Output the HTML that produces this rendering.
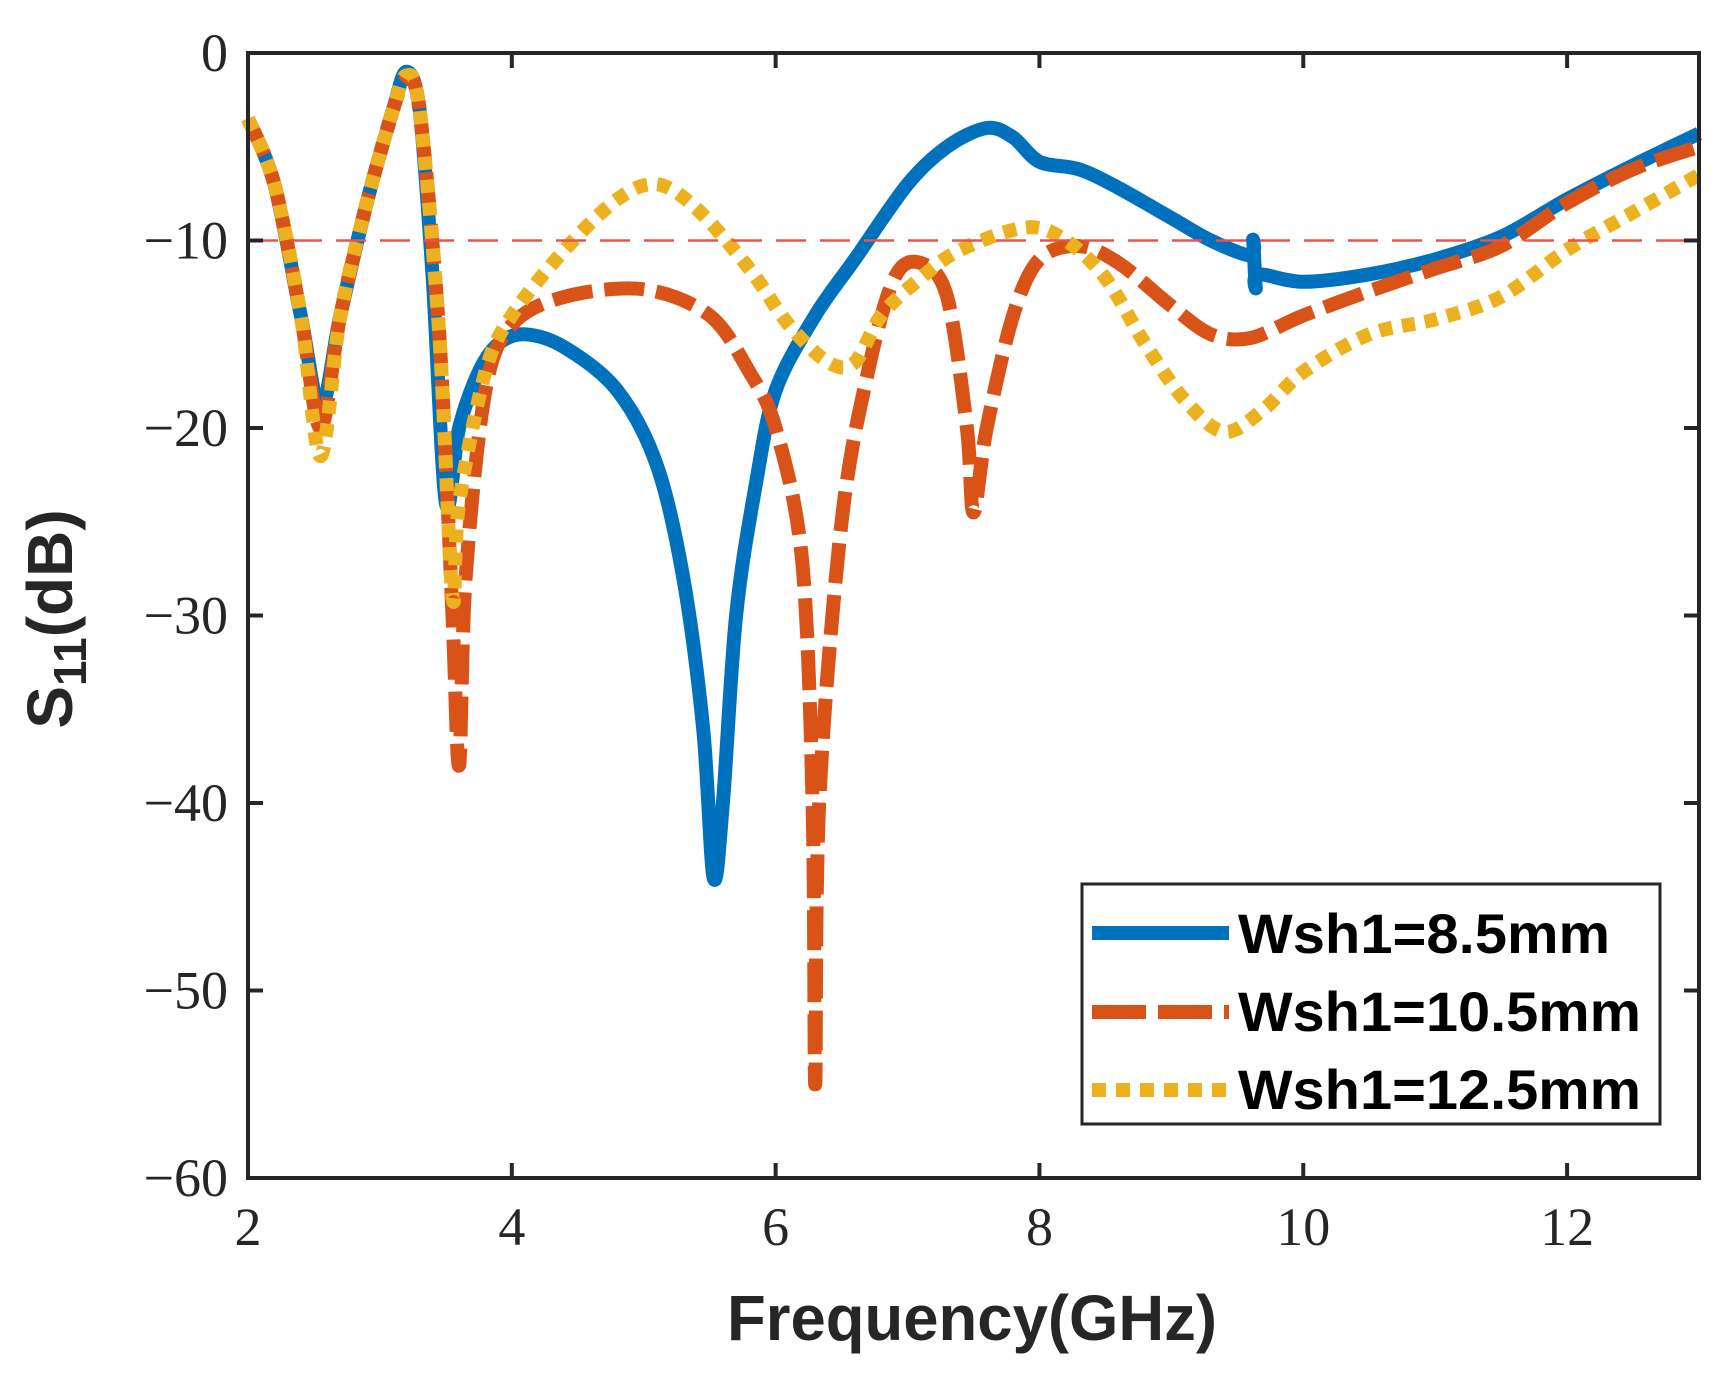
<!DOCTYPE html>
<html><head><meta charset="utf-8"><style>html,body{margin:0;padding:0;background:#fff}svg{display:block}</style></head>
<body>
<svg id="s" width="1731" height="1374" viewBox="0 0 1731 1374" xmlns="http://www.w3.org/2000/svg">
<rect width="1731" height="1374" fill="#fff"/>
<g id="plot"></g>
<g id="axes" stroke="#262626" stroke-width="4" fill="none"></g>
<g font-family="'Liberation Serif', serif" font-size="54" fill="#262626" id="ticks"></g>
<text x="972" y="1340" font-family="'Liberation Sans', sans-serif" font-weight="bold" font-size="64" fill="#262626" text-anchor="middle" textLength="490" lengthAdjust="spacingAndGlyphs">Frequency(GHz)</text>
<text transform="translate(72,619) rotate(-90)" font-family="'Liberation Sans', sans-serif" font-weight="bold" font-size="64" fill="#262626" text-anchor="middle">S<tspan font-size="46" dy="14">11</tspan><tspan dy="-14">(dB)</tspan></text>
<g id="legend">
<rect x="1082" y="884" width="578" height="240" fill="#fff" stroke="#262626" stroke-width="3"/>
<line x1="1092" y1="933" x2="1229" y2="933" stroke="#0072BD" stroke-width="14"/>
<line x1="1092" y1="1012" x2="1229" y2="1012" stroke="#D95319" stroke-width="14" stroke-dasharray="54 12"/>
<line x1="1092" y1="1090" x2="1229" y2="1090" stroke="#EDB120" stroke-width="14" stroke-dasharray="14 10"/>
<g font-family="'Liberation Sans', sans-serif" font-weight="bold" font-size="56" fill="#000">
<text x="1238" y="953" textLength="372" lengthAdjust="spacingAndGlyphs">Wsh1=8.5mm</text>
<text x="1238" y="1031" textLength="403" lengthAdjust="spacingAndGlyphs">Wsh1=10.5mm</text>
<text x="1238" y="1109" textLength="403" lengthAdjust="spacingAndGlyphs">Wsh1=12.5mm</text>
</g>
</g>
</svg>
<script>
(function(){
var L=248,R=1699,T=53,B=1178;
function X(f){return L+(f-2)*(R-L)/11;}
function Y(d){return T+(-d)*(B-T)/60;}
var NS="http://www.w3.org/2000/svg";
function el(p,tag,a){var e=document.createElementNS(NS,tag);for(var k in a)e.setAttribute(k,a[k]);p.appendChild(e);return e;}
var blue=[[2,-3.5],[2.2,-7],[2.4,-14],[2.55,-19],[2.7,-14],[2.9,-8],[3.1,-3],[3.2,-1],[3.3,-3],[3.4,-12],[3.5,-24],[3.6,-20],[3.75,-17],[3.9,-15.5],[4.1,-15],[4.4,-15.7],[4.8,-18],[5.1,-22],[5.3,-28],[5.45,-36],[5.53,-44],[5.6,-40],[5.7,-30],[5.85,-23],[6.0,-18],[6.3,-14],[6.6,-11],[7.0,-7],[7.3,-5],[7.6,-4],[7.8,-4.5],[8.0,-5.8],[8.3,-6.2],[8.6,-7.2],[9.0,-8.8],[9.3,-10],[9.6,-10.8],[9.62,-10],[9.64,-12.5],[9.66,-11.8],[10.0,-12.2],[10.5,-11.8],[11,-11],[11.5,-9.8],[12,-7.8],[12.5,-6],[13,-4.3]];
var orange=[[2,-3.5],[2.2,-7],[2.4,-14],[2.55,-20],[2.7,-14],[2.9,-8],[3.1,-3],[3.2,-1.5],[3.3,-3],[3.45,-15],[3.55,-30],[3.6,-38],[3.65,-28],[3.8,-18],[4,-14.5],[4.4,-13],[5,-12.6],[5.5,-14],[5.8,-17],[6.0,-20],[6.2,-27],[6.28,-40],[6.3,-55],[6.33,-40],[6.5,-25],[6.7,-17],[6.9,-12],[7.1,-11.2],[7.3,-13],[7.45,-20],[7.5,-24.5],[7.6,-20],[7.8,-14],[8.0,-11],[8.3,-10.3],[8.6,-11.2],[9.0,-13.5],[9.3,-15],[9.6,-15.2],[10,-14],[10.5,-12.7],[11,-11.5],[11.5,-10.3],[12,-8],[12.5,-6.2],[13,-5]];
var yellow=[[2,-3.5],[2.2,-7],[2.4,-14],[2.55,-21.5],[2.7,-14],[2.9,-8],[3.1,-3],[3.2,-1.2],[3.3,-3],[3.45,-15],[3.55,-29],[3.6,-24],[3.8,-17],[4,-14],[4.4,-10.5],[4.8,-7.8],[5.1,-7],[5.4,-8.3],[5.8,-11.5],[6.1,-14.5],[6.4,-16.5],[6.6,-16.5],[6.8,-14],[7.1,-12],[7.4,-10.5],[7.9,-9.3],[8.2,-10],[8.5,-12],[8.8,-15.5],[9.1,-18.5],[9.4,-20.2],[9.7,-19],[10,-17],[10.5,-15],[11,-14.2],[11.5,-13],[12,-10.5],[12.5,-8.5],[13,-6.5]];
function path(pts){
  var p=pts.map(function(q){return [X(q[0]),Y(q[1])];});
  var d="M"+p[0][0].toFixed(1)+","+p[0][1].toFixed(1);
  for(var i=0;i<p.length-1;i++){
    var p0=p[i-1]||p[i],p1=p[i],p2=p[i+1],p3=p[i+2]||p2;
    var t=0.16;
    var c1=[p1[0]+(p2[0]-p0[0])*t,p1[1]+(p2[1]-p0[1])*t];
    var c2=[p2[0]-(p3[0]-p1[0])*t,p2[1]-(p3[1]-p1[1])*t];
    d+="C"+c1[0].toFixed(1)+","+c1[1].toFixed(1)+" "+c2[0].toFixed(1)+","+c2[1].toFixed(1)+" "+p2[0].toFixed(1)+","+p2[1].toFixed(1);
  }
  return d;}
var g=document.getElementById("plot");
el(g,"path",{d:path(blue),stroke:"#0072BD","stroke-width":14,fill:"none","stroke-linejoin":"round"});
el(g,"path",{d:path(orange),stroke:"#D95319","stroke-width":14,fill:"none","stroke-dasharray":"40 12"});
el(g,"path",{d:path(yellow),stroke:"#EDB120","stroke-width":14,fill:"none","stroke-dasharray":"13 10"});
el(g,"line",{x1:L,x2:R,y1:Y(-10),y2:Y(-10),stroke:"#F0504A","stroke-width":2.5,"stroke-dasharray":"30 14"});
var a=document.getElementById("axes");
el(a,"rect",{x:L,y:T,width:R-L,height:B-T});
var t=document.getElementById("ticks");
for(var f=2;f<=12;f+=2){var x=X(f);el(a,"line",{x1:x,x2:x,y1:B,y2:B-15});el(a,"line",{x1:x,x2:x,y1:T,y2:T+15});
var tx=el(t,"text",{x:x,y:1245,"text-anchor":"middle"});tx.textContent=String(f);}
for(var d=0;d>=-60;d-=10){var y=Y(d);el(a,"line",{x1:L,x2:L+15,y1:y,y2:y});el(a,"line",{x1:R,x2:R-15,y1:y,y2:y});
var ty=el(t,"text",{x:228,y:y+18,"text-anchor":"end"});ty.textContent=d==0?"0":"\u2212"+(-d);}
})();
</script>
</body></html>
